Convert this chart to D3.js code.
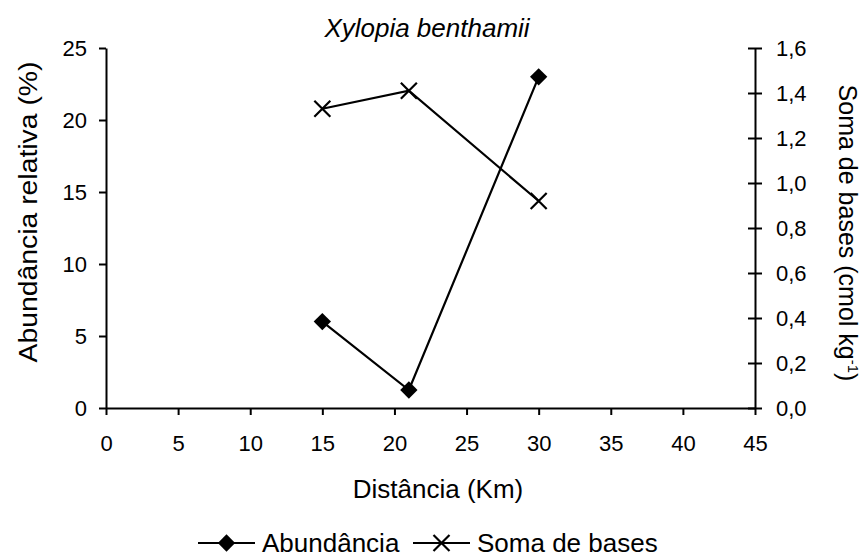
<!DOCTYPE html>
<html>
<head>
<meta charset="utf-8">
<script src="https://cdn.jsdelivr.net/npm/d3@7"></script>
<style>
  body { margin: 0; background: #fff; }
  svg text { font-family: "Liberation Sans", Arial, sans-serif; fill: #000; }
</style>
</head>
<body>
<div id="chart"></div>
<script>
// data
const distances = [15, 21, 30];
const abundancia = [6.0, 1.25, 23.0];
const somaBases = [1.33, 1.41, 0.92];
const xTicks = [0, 5, 10, 15, 20, 25, 30, 35, 40, 45];
const leftTicks = [0, 5, 10, 15, 20, 25];
const rightTicks = [0, 0.2, 0.4, 0.6, 0.8, 1.0, 1.2, 1.4, 1.6];

const width = 866;
const height = 557;
const margin = {top: 48, right: 111, bottom: 149, left: 106};
const graphWidth = width - margin.left - margin.right;
const graphHeight = height - margin.top - margin.bottom;

const svg = d3.select('#chart')
    .append('svg')
    .attr('width', width)
    .attr('height', height);

const graph = svg.append('g')
    .attr('transform', `translate(${margin.left}, ${margin.top})`);

const xScale = d3.scaleLinear().domain([0, 45]).range([0, graphWidth]);
const yLeft = d3.scaleLinear().domain([0, 25]).range([graphHeight, 0]);
const yRight = d3.scaleLinear().domain([0, 1.6]).range([graphHeight, 0]);

const comma = d => d3.format('.1f')(d).replace('.', ',');

// x axis
const xAxis = graph.append('g')
    .attr('transform', `translate(0, ${graphHeight})`)
    .call(d3.axisBottom(xScale).tickValues(xTicks).tickSize(7).tickPadding(20).tickSizeOuter(0));

// left axis
const leftAxis = graph.append('g')
    .call(d3.axisLeft(yLeft).tickValues(leftTicks).tickSize(7).tickPadding(12).tickSizeOuter(0));

// right axis, ticks cross the line
const rightAxis = graph.append('g')
    .attr('transform', `translate(${graphWidth}, 0)`)
    .call(d3.axisRight(yRight).tickValues(rightTicks).tickFormat(comma).tickSize(7).tickPadding(14).tickSizeOuter(0));
rightAxis.selectAll('.tick line').attr('x1', -7);

[xAxis, leftAxis, rightAxis].forEach(a => {
    a.select('.domain').attr('stroke', '#000').attr('stroke-width', 2);
    a.selectAll('.tick line').attr('stroke', '#000').attr('stroke-width', 2);
    a.selectAll('.tick text').style('font-size', '22px');
});

// lines
const lineAb = d3.line().x((d, i) => xScale(distances[i])).y(d => yLeft(d));
const lineSb = d3.line().x((d, i) => xScale(distances[i])).y(d => yRight(d));

graph.append('path')
    .attr('d', lineAb(abundancia))
    .attr('fill', 'none').attr('stroke', '#000').attr('stroke-width', 2.2);
graph.append('path')
    .attr('d', lineSb(somaBases))
    .attr('fill', 'none').attr('stroke', '#000').attr('stroke-width', 2.2);

const diamond = d3.symbol().type(d3.symbolSquare).size(150);
function crossPath(s) {
    return `M${-s},${-s}L${s},${s}M${-s},${s}L${s},${-s}`;
}

graph.selectAll('.ab-mark')
    .data(abundancia)
    .enter()
    .append('path')
    .attr('class', 'ab-mark')
    .attr('d', diamond())
    .attr('transform', (d, i) => `translate(${xScale(distances[i])}, ${yLeft(d)}) rotate(45)`)
    .attr('fill', '#000');

graph.selectAll('.sb-mark')
    .data(somaBases)
    .enter()
    .append('path')
    .attr('class', 'sb-mark')
    .attr('d', crossPath(8))
    .attr('transform', (d, i) => `translate(${xScale(distances[i])}, ${yRight(d)})`)
    .attr('stroke', '#000').attr('stroke-width', 2.2);

// title and axis labels
svg.append('text')
    .text('Xylopia benthamii')
    .attr('x', 427)
    .attr('y', 37)
    .attr('text-anchor', 'middle')
    .style('font-size', '26px')
    .style('font-style', 'italic');

svg.append('text')
    .text('Distância (Km)')
    .attr('x', 438)
    .attr('y', 498)
    .attr('text-anchor', 'middle')
    .style('font-size', '26px');

svg.append('text')
    .text('Abundância relativa (%)')
    .attr('transform', 'translate(37, 212) rotate(-90)')
    .attr('text-anchor', 'middle')
    .attr('textLength', 301)
    .attr('lengthAdjust', 'spacingAndGlyphs')
    .style('font-size', '26px');

const rightLabel = svg.append('text')
    .attr('transform', 'translate(839, 233) rotate(90)')
    .attr('text-anchor', 'middle')
    .style('font-size', '25px');
rightLabel.append('tspan').text('Soma de bases (cmol kg');
rightLabel.append('tspan').text('-1').attr('dy', -9).style('font-size', '15px');
rightLabel.append('tspan').text(')').attr('dy', 9);

// legend
const legend = svg.append('g').attr('transform', 'translate(0, 543)');
legend.append('line').attr('x1', 198).attr('x2', 255).attr('y1', 0).attr('y2', 0)
    .attr('stroke', '#000').attr('stroke-width', 2.2);
legend.append('path').attr('d', diamond()).attr('transform', 'translate(226.5, 0) rotate(45)').attr('fill', '#000');
legend.append('text').text('Abundância').attr('x', 262).attr('y', 9).style('font-size', '26px');

legend.append('line').attr('x1', 413).attr('x2', 470).attr('y1', 0).attr('y2', 0)
    .attr('stroke', '#000').attr('stroke-width', 2.2);
legend.append('path').attr('d', crossPath(8)).attr('transform', 'translate(441.5, 0)')
    .attr('stroke', '#000').attr('stroke-width', 2.2);
legend.append('text').text('Soma de bases').attr('x', 477).attr('y', 9).style('font-size', '26px');
</script>
</body>
</html>
